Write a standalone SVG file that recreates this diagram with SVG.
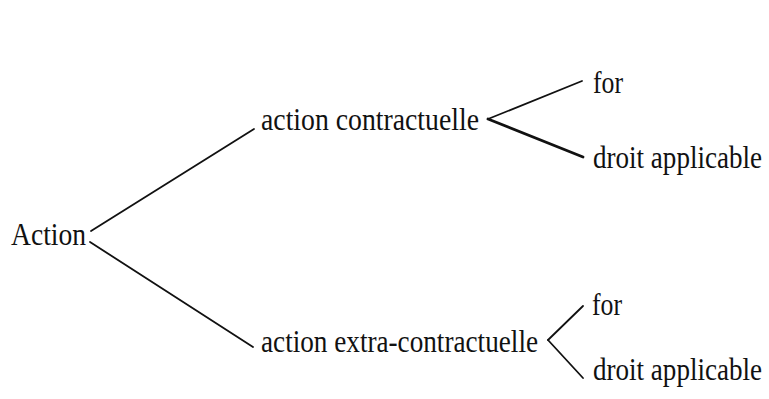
<svg xmlns="http://www.w3.org/2000/svg" width="769" height="399" viewBox="0 0 769 399">
<style>
text{font-family:"Liberation Serif","Times New Roman",serif;font-size:32px;fill:#111;}
.c{stroke:#111;stroke-width:1.8;fill:none;stroke-linecap:round;}
.t{stroke-width:2.8;}
</style>
<rect width="769" height="399" fill="#fff"/>
<g id="connectors">
<line class="c" x1="91" y1="231" x2="254" y2="129"/>
<line class="c" x1="90" y1="242" x2="253" y2="347"/>
<line class="c" x1="582" y1="81" x2="488" y2="119"/>
<line class="c t" x1="488" y1="119" x2="583" y2="157"/>
<line class="c" x1="583" y1="306" x2="548" y2="340"/>
<line class="c" x1="548" y1="340" x2="583" y2="378"/>
</g>
<g id="action"><text x="11" y="245" textLength="75" lengthAdjust="spacingAndGlyphs">Action</text></g>
<g id="action-contractuelle"><text x="261" y="130" textLength="218" lengthAdjust="spacingAndGlyphs">action contractuelle</text></g>
<g id="for-1"><text x="593" y="93" textLength="30" lengthAdjust="spacingAndGlyphs">for</text></g>
<g id="droit-1"><text x="593" y="168" textLength="169" lengthAdjust="spacingAndGlyphs">droit applicable</text></g>
<g id="action-extra"><text x="261" y="352" textLength="277" lengthAdjust="spacingAndGlyphs">action extra-contractuelle</text></g>
<g id="for-2"><text x="592" y="315" textLength="30" lengthAdjust="spacingAndGlyphs">for</text></g>
<g id="droit-2"><text x="593" y="380" textLength="169" lengthAdjust="spacingAndGlyphs">droit applicable</text></g>
</svg>
